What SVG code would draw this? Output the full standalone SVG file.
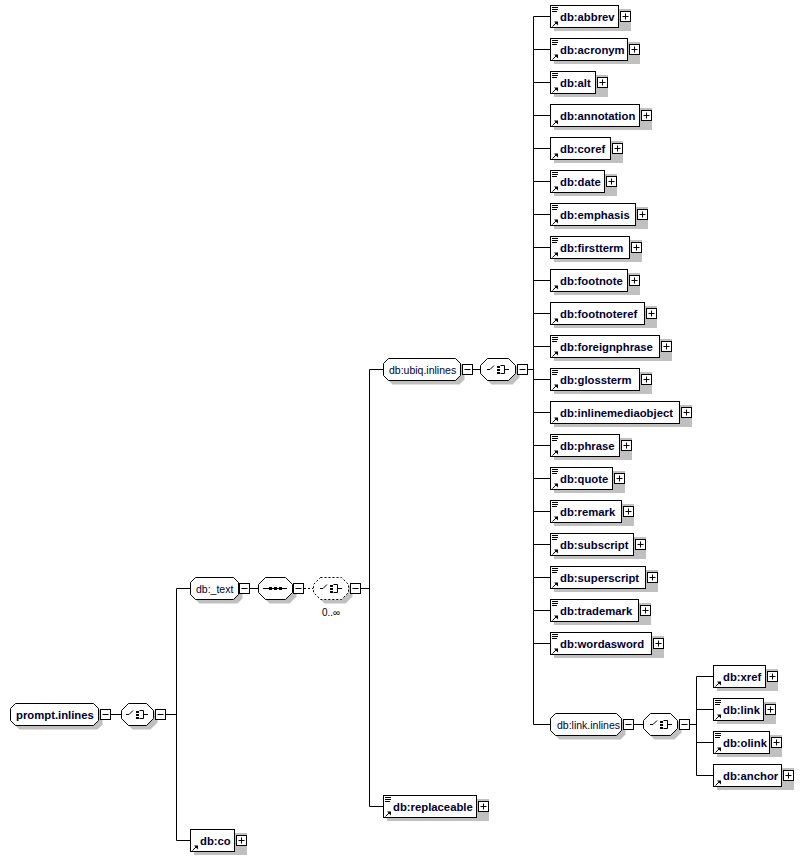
<svg xmlns="http://www.w3.org/2000/svg" xmlns:xlink="http://www.w3.org/1999/xlink" width="803" height="860" viewBox="0 0 803 860">
<style>
.sh{fill:#c0c0c0}
.bx{fill:#fff;stroke:#000;stroke-width:1}
.oc{fill:#fff;stroke:#000;stroke-width:1}
.dash{stroke-dasharray:2,2}
.ln{fill:none;stroke:#000;stroke-width:1}
.el{font-family:"Liberation Sans",Arial,sans-serif;font-size:11.3px;font-weight:bold;fill:#000033}
.gr{font-family:"Liberation Sans",Arial,sans-serif;font-size:10.5px;fill:#000033}
.oc2{font-family:"Liberation Sans",Arial,sans-serif;font-size:10px;fill:#000}
</style>
<defs>
<g id="pl"><rect x="0.5" y="0.5" width="10" height="10" fill="#fff" stroke="#000"/><path d="M2.5 5.5h6M5.5 2.5v6" stroke="#000" fill="none"/></g>
<g id="mi"><rect x="0.5" y="0.5" width="10" height="10" fill="#fff" stroke="#000"/><path d="M2.5 5.5h6" stroke="#000" fill="none"/></g>
<g id="ti"><path d="M2 -8.5h6M2 -6.5h6M2 -4.5h5" stroke="#000" fill="none"/></g>
<g id="ar"><path d="M2.5 10.5L6 7" stroke="#000" fill="none"/><path d="M4 5.5H8V9.5Z" fill="#000"/></g>
<g id="ch"><path d="M-11 0.5h3l4-4" fill="none" stroke="#000"/><rect x="-1" y="-3" width="3" height="2"/><rect x="-1" y="0" width="3" height="2"/><rect x="-1" y="3" width="3" height="2"/><path d="M2.5 -3.5h4v8h-4M6.5 0.5h4.5" fill="none" stroke="#000"/></g>
<g id="sq"><path d="M-12 0.5h24" stroke="#000" fill="none"/><rect x="-6" y="-1" width="3" height="3"/><rect x="-1" y="-1" width="3" height="3"/><rect x="4" y="-1" width="3" height="3"/></g>
</defs>
<rect width="803" height="860" fill="#fff"/>

<g id="connectors" class="ln">
<path d="M111 714.5H121"/>
<path d="M166 714.5H176.5"/>
<path d="M176.5 588.5V840.5"/>
<path d="M176.5 588.5H190M176.5 840.5H190"/>
<path d="M250 588.5H258"/>
<path d="M304 588.5H313" class="dash"/>
<path d="M361 588.5H369.5"/>
<path d="M369.5 369.5V806.5"/>
<path d="M369.5 369.5H383M369.5 806.5H383"/>
<path d="M473 369.5H480"/>
<path d="M528 369.5H533.5"/>
<path d="M533.5 16.5V724.5"/>
<path d="M533.5 16.5H550M533.5 49.5H550M533.5 82.5H550M533.5 115.5H550M533.5 148.5H550M533.5 181.5H550M533.5 214.5H550M533.5 247.5H550M533.5 280.5H550M533.5 313.5H550M533.5 346.5H550M533.5 379.5H550M533.5 412.5H550M533.5 445.5H550M533.5 478.5H550M533.5 511.5H550M533.5 544.5H550M533.5 577.5H550M533.5 610.5H550M533.5 643.5H550M533.5 724.5H550"/>
<path d="M634 724.5H643"/>
<path d="M690 724.5H696.5"/>
<path d="M696.5 676.5V775.5"/>
<path d="M696.5 676.5H713M696.5 709.5H713M696.5 742.5H713M696.5 775.5H713"/>
</g>

<g id="prompt.inlines">
<path class="sh" transform="translate(4,4)" d="M15.5 703.5H93.5L98.5 708.5V720.5L93.5 725.5H15.5L10.5 720.5V708.5Z"/>
<path class="oc" d="M15.5 703.5H93.5L98.5 708.5V720.5L93.5 725.5H15.5L10.5 720.5V708.5Z"/>
<text class="el" x="16" y="719">prompt.inlines</text>
<use xlink:href="#mi" x="100" y="709"/>
</g>
<g id="choice1">
<path class="sh" transform="translate(4,4)" d="M128.5 703.5H146.5L153.5 710.5V718.5L146.5 725.5H128.5L121.5 718.5V710.5Z"/>
<path class="oc" d="M128.5 703.5H146.5L153.5 710.5V718.5L146.5 725.5H128.5L121.5 718.5V710.5Z"/>
<use xlink:href="#ch" x="137" y="714"/>
<use xlink:href="#mi" x="155" y="709"/>
</g>

<g id="db._text">
<path class="sh" transform="translate(4,4)" d="M195.5 577.5H233.5L238.5 582.5V594.5L233.5 599.5H195.5L190.5 594.5V582.5Z"/>
<path class="oc" d="M195.5 577.5H233.5L238.5 582.5V594.5L233.5 599.5H195.5L190.5 594.5V582.5Z"/>
<text class="gr" x="196" y="593">db:_text</text>
<use xlink:href="#mi" x="239" y="583"/>
</g>
<g id="sequence1">
<path class="sh" transform="translate(4,4)" d="M265.5 577.5H285.5L292.5 584.5V592.5L285.5 599.5H265.5L258.5 592.5V584.5Z"/>
<path class="oc" d="M265.5 577.5H285.5L292.5 584.5V592.5L285.5 599.5H265.5L258.5 592.5V584.5Z"/>
<use xlink:href="#sq" x="275" y="588"/>
<use xlink:href="#mi" x="293" y="583"/>
</g>
<g id="choice2">
<path class="sh" transform="translate(4,4)" d="M320.5 577.5H341.5L348.5 584.5V592.5L341.5 599.5H320.5L313.5 592.5V584.5Z"/>
<path class="oc dash" d="M320.5 577.5H341.5L348.5 584.5V592.5L341.5 599.5H320.5L313.5 592.5V584.5Z"/>
<use xlink:href="#ch" x="331" y="588"/>
<use xlink:href="#mi" x="350" y="583"/>
<text class="oc2" x="331" y="616" text-anchor="middle">0..∞</text>
</g>

<g id="db.ubiq.inlines">
<path class="sh" transform="translate(4,4)" d="M388.5 358.5H455.5L460.5 363.5V375.5L455.5 380.5H388.5L383.5 375.5V363.5Z"/>
<path class="oc" d="M388.5 358.5H455.5L460.5 363.5V375.5L455.5 380.5H388.5L383.5 375.5V363.5Z"/>
<text class="gr" x="389" y="374">db:ubiq.inlines</text>
<use xlink:href="#mi" x="462" y="364"/>
</g>
<g id="choice3">
<path class="sh" transform="translate(4,4)" d="M487.5 358.5H508.5L515.5 365.5V373.5L508.5 380.5H487.5L480.5 373.5V365.5Z"/>
<path class="oc" d="M487.5 358.5H508.5L515.5 365.5V373.5L508.5 380.5H487.5L480.5 373.5V365.5Z"/>
<use xlink:href="#ch" x="498" y="369"/>
<use xlink:href="#mi" x="517" y="364"/>
</g>

<g id="db.abbrev"><rect class="sh" x="554" y="9" width="77" height="22"/><rect class="bx" x="550.5" y="5.5" width="68" height="22"/><use xlink:href="#ti" x="550" y="16"/><use xlink:href="#ar" x="550" y="16"/><text class="el" x="560" y="21">db:abbrev</text><use xlink:href="#pl" x="620" y="11"/></g>
<g id="db.acronym"><rect class="sh" x="554" y="42" width="86" height="22"/><rect class="bx" x="550.5" y="38.5" width="77" height="22"/><use xlink:href="#ti" x="550" y="49"/><use xlink:href="#ar" x="550" y="49"/><text class="el" x="560" y="54">db:acronym</text><use xlink:href="#pl" x="629" y="44"/></g>
<g id="db.alt"><rect class="sh" x="554" y="75" width="54" height="22"/><rect class="bx" x="550.5" y="71.5" width="45" height="22"/><use xlink:href="#ti" x="550" y="82"/><use xlink:href="#ar" x="550" y="82"/><text class="el" x="560" y="87">db:alt</text><use xlink:href="#pl" x="597" y="77"/></g>
<g id="db.annotation"><rect class="sh" x="554" y="108" width="98" height="22"/><rect class="bx" x="550.5" y="104.5" width="89" height="22"/><use xlink:href="#ar" x="550" y="115"/><text class="el" x="560" y="120">db:annotation</text><use xlink:href="#pl" x="641" y="110"/></g>
<g id="db.coref"><rect class="sh" x="554" y="141" width="69" height="22"/><rect class="bx" x="550.5" y="137.5" width="60" height="22"/><use xlink:href="#ar" x="550" y="148"/><text class="el" x="560" y="153">db:coref</text><use xlink:href="#pl" x="612" y="143"/></g>
<g id="db.date"><rect class="sh" x="554" y="174" width="63" height="22"/><rect class="bx" x="550.5" y="170.5" width="54" height="22"/><use xlink:href="#ti" x="550" y="181"/><use xlink:href="#ar" x="550" y="181"/><text class="el" x="560" y="186">db:date</text><use xlink:href="#pl" x="606" y="176"/></g>
<g id="db.emphasis"><rect class="sh" x="554" y="207" width="94" height="22"/><rect class="bx" x="550.5" y="203.5" width="85" height="22"/><use xlink:href="#ti" x="550" y="214"/><use xlink:href="#ar" x="550" y="214"/><text class="el" x="560" y="219">db:emphasis</text><use xlink:href="#pl" x="637" y="209"/></g>
<g id="db.firstterm"><rect class="sh" x="554" y="240" width="88" height="22"/><rect class="bx" x="550.5" y="236.5" width="79" height="22"/><use xlink:href="#ti" x="550" y="247"/><use xlink:href="#ar" x="550" y="247"/><text class="el" x="560" y="252">db:firstterm</text><use xlink:href="#pl" x="631" y="242"/></g>
<g id="db.footnote"><rect class="sh" x="554" y="273" width="86" height="22"/><rect class="bx" x="550.5" y="269.5" width="77" height="22"/><use xlink:href="#ar" x="550" y="280"/><text class="el" x="560" y="285">db:footnote</text><use xlink:href="#pl" x="629" y="275"/></g>
<g id="db.footnoteref"><rect class="sh" x="554" y="306" width="103" height="22"/><rect class="bx" x="550.5" y="302.5" width="94" height="22"/><use xlink:href="#ar" x="550" y="313"/><text class="el" x="560" y="318">db:footnoteref</text><use xlink:href="#pl" x="646" y="308"/></g>
<g id="db.foreignphrase"><rect class="sh" x="554" y="339" width="118" height="22"/><rect class="bx" x="550.5" y="335.5" width="109" height="22"/><use xlink:href="#ti" x="550" y="346"/><use xlink:href="#ar" x="550" y="346"/><text class="el" x="560" y="351">db:foreignphrase</text><use xlink:href="#pl" x="661" y="341"/></g>
<g id="db.glossterm"><rect class="sh" x="554" y="372" width="98" height="22"/><rect class="bx" x="550.5" y="368.5" width="89" height="22"/><use xlink:href="#ti" x="550" y="379"/><use xlink:href="#ar" x="550" y="379"/><text class="el" x="560" y="384">db:glossterm</text><use xlink:href="#pl" x="641" y="374"/></g>
<g id="db.inlinemediaobject"><rect class="sh" x="554" y="405" width="138" height="22"/><rect class="bx" x="550.5" y="401.5" width="129" height="22"/><use xlink:href="#ar" x="550" y="412"/><text class="el" x="560" y="417">db:inlinemediaobject</text><use xlink:href="#pl" x="681" y="407"/></g>
<g id="db.phrase"><rect class="sh" x="554" y="438" width="78" height="22"/><rect class="bx" x="550.5" y="434.5" width="69" height="22"/><use xlink:href="#ti" x="550" y="445"/><use xlink:href="#ar" x="550" y="445"/><text class="el" x="560" y="450">db:phrase</text><use xlink:href="#pl" x="621" y="440"/></g>
<g id="db.quote"><rect class="sh" x="554" y="471" width="71" height="22"/><rect class="bx" x="550.5" y="467.5" width="62" height="22"/><use xlink:href="#ti" x="550" y="478"/><use xlink:href="#ar" x="550" y="478"/><text class="el" x="560" y="483">db:quote</text><use xlink:href="#pl" x="614" y="473"/></g>
<g id="db.remark"><rect class="sh" x="554" y="504" width="80" height="22"/><rect class="bx" x="550.5" y="500.5" width="71" height="22"/><use xlink:href="#ti" x="550" y="511"/><use xlink:href="#ar" x="550" y="511"/><text class="el" x="560" y="516">db:remark</text><use xlink:href="#pl" x="623" y="506"/></g>
<g id="db.subscript"><rect class="sh" x="554" y="537" width="92" height="22"/><rect class="bx" x="550.5" y="533.5" width="83" height="22"/><use xlink:href="#ti" x="550" y="544"/><use xlink:href="#ar" x="550" y="544"/><text class="el" x="560" y="549">db:subscript</text><use xlink:href="#pl" x="635" y="539"/></g>
<g id="db.superscript"><rect class="sh" x="554" y="570" width="104" height="22"/><rect class="bx" x="550.5" y="566.5" width="95" height="22"/><use xlink:href="#ti" x="550" y="577"/><use xlink:href="#ar" x="550" y="577"/><text class="el" x="560" y="582">db:superscript</text><use xlink:href="#pl" x="647" y="572"/></g>
<g id="db.trademark"><rect class="sh" x="554" y="603" width="97" height="22"/><rect class="bx" x="550.5" y="599.5" width="88" height="22"/><use xlink:href="#ti" x="550" y="610"/><use xlink:href="#ar" x="550" y="610"/><text class="el" x="560" y="615">db:trademark</text><use xlink:href="#pl" x="640" y="605"/></g>
<g id="db.wordasword"><rect class="sh" x="554" y="636" width="110" height="22"/><rect class="bx" x="550.5" y="632.5" width="101" height="22"/><use xlink:href="#ti" x="550" y="643"/><use xlink:href="#ar" x="550" y="643"/><text class="el" x="560" y="648">db:wordasword</text><use xlink:href="#pl" x="653" y="638"/></g>

<g id="db.link.inlines">
<path class="sh" transform="translate(4,4)" d="M555.5 713.5H616.5L621.5 718.5V730.5L616.5 735.5H555.5L550.5 730.5V718.5Z"/>
<path class="oc" d="M555.5 713.5H616.5L621.5 718.5V730.5L616.5 735.5H555.5L550.5 730.5V718.5Z"/>
<text class="gr" x="557" y="729">db:link.inlines</text>
<use xlink:href="#mi" x="623" y="719"/>
</g>
<g id="choice4">
<path class="sh" transform="translate(4,4)" d="M650.5 713.5H670.5L677.5 720.5V728.5L670.5 735.5H650.5L643.5 728.5V720.5Z"/>
<path class="oc" d="M650.5 713.5H670.5L677.5 720.5V728.5L670.5 735.5H650.5L643.5 728.5V720.5Z"/>
<use xlink:href="#ch" x="661" y="724"/>
<use xlink:href="#mi" x="679" y="719"/>
</g>

<g id="db.xref"><rect class="sh" x="717" y="669" width="61" height="22"/><rect class="bx" x="713.5" y="665.5" width="52" height="22"/><use xlink:href="#ar" x="713" y="676"/><text class="el" x="723" y="681">db:xref</text><use xlink:href="#pl" x="767" y="671"/></g>
<g id="db.link"><rect class="sh" x="717" y="702" width="59" height="22"/><rect class="bx" x="713.5" y="698.5" width="50" height="22"/><use xlink:href="#ti" x="713" y="709"/><use xlink:href="#ar" x="713" y="709"/><text class="el" x="723" y="714">db:link</text><use xlink:href="#pl" x="765" y="704"/></g>
<g id="db.olink"><rect class="sh" x="717" y="735" width="65" height="22"/><rect class="bx" x="713.5" y="731.5" width="56" height="22"/><use xlink:href="#ti" x="713" y="742"/><use xlink:href="#ar" x="713" y="742"/><text class="el" x="723" y="747">db:olink</text><use xlink:href="#pl" x="771" y="737"/></g>
<g id="db.anchor"><rect class="sh" x="717" y="768" width="77" height="22"/><rect class="bx" x="713.5" y="764.5" width="68" height="22"/><use xlink:href="#ar" x="713" y="775"/><text class="el" x="723" y="780">db:anchor</text><use xlink:href="#pl" x="783" y="770"/></g>

<g id="db.replaceable"><rect class="sh" x="387" y="799" width="102" height="22"/><rect class="bx" x="383.5" y="795.5" width="93" height="22"/><use xlink:href="#ti" x="383" y="806"/><use xlink:href="#ar" x="383" y="806"/><text class="el" x="393" y="811">db:replaceable</text><use xlink:href="#pl" x="478" y="801"/></g>
<g id="db.co"><rect class="sh" x="194" y="833" width="53" height="22"/><rect class="bx" x="190.5" y="829.5" width="44" height="22"/><use xlink:href="#ar" x="190" y="840"/><text class="el" x="200" y="845">db:co</text><use xlink:href="#pl" x="236" y="835"/></g>
</svg>
